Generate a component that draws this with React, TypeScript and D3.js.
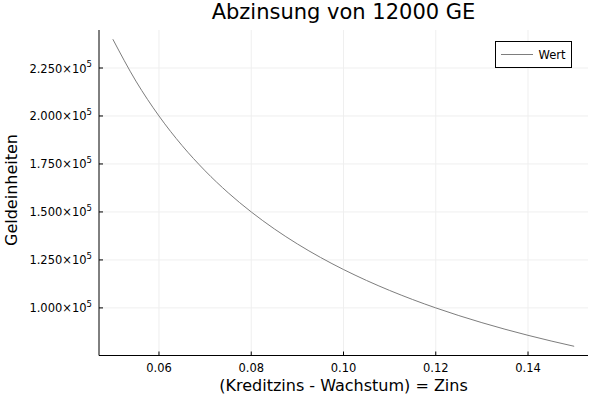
import React from "react";
import * as d3 from "d3";

const zinsen = [0.05, 0.055, 0.06, 0.065, 0.07, 0.075, 0.08, 0.085, 0.09, 0.095, 0.1, 0.105, 0.11, 0.115, 0.12, 0.125, 0.13, 0.135, 0.14, 0.145, 0.15];
const werte = [240000, 218182, 200000, 184615, 171429, 160000, 150000, 141176, 133333, 126316, 120000, 114286, 109091, 104348, 100000, 96000, 92308, 88889, 85714, 82759, 80000];
const xTicks = [0.06, 0.08, 0.1, 0.12, 0.14];
const xTickLabels = ["0.06", "0.08", "0.10", "0.12", "0.14"];
const yTicks = [100000, 125000, 150000, 175000, 200000, 225000];
const yTickMantissa = ["1.000", "1.250", "1.500", "1.750", "2.000", "2.250"];
const seriesName = "Wert";
const title = "Abzinsung von 12000 GE";
const xLabel = "(Kreditzins - Wachstum) = Zins";
const yLabel = "Geldeinheiten";

export default function App() {
  const W = 600, H = 400;
  const left = 99, right = 588, top = 30, bottom = 355.5;
  const font = "DejaVu Sans, sans-serif";
  const xMin = d3.min(zinsen)!, xMax = d3.max(zinsen)!;
  const yMin = d3.min(werte)!, yMax = d3.max(werte)!;
  const xPad = (xMax - xMin) * 0.03, yPad = (yMax - yMin) * 0.03;
  const x = d3.scaleLinear().domain([xMin - xPad, xMax + xPad]).range([left, right]);
  const y = d3.scaleLinear().domain([yMin - yPad, yMax + yPad]).range([bottom, top]);
  const pts: [number, number][] = zinsen.map((z, i) => [z, werte[i]]);
  const line = d3.line<[number, number]>().x(d => x(d[0])).y(d => y(d[1])).curve(d3.curveMonotoneX);
  const lineColor = "#7d7d7d";
  const gridColor = "#efefef";
  return (
    <svg width={W} height={H} style={{ position: "fixed", left: 0, top: 0, background: "#fff" }} fontFamily={font}>
      <rect x={0} y={0} width={W} height={H} fill="#fff" />
      {xTicks.map((t, i) => (
        <line key={"gx" + i} x1={x(t)} x2={x(t)} y1={top} y2={bottom} stroke={gridColor} strokeWidth={1} />
      ))}
      {yTicks.map((t, i) => (
        <line key={"gy" + i} x1={left} x2={right} y1={y(t)} y2={y(t)} stroke={gridColor} strokeWidth={1} />
      ))}
      <path d={line(pts) || ""} fill="none" stroke={lineColor} strokeWidth={1} />
      <line x1={left} x2={left} y1={top} y2={bottom} stroke="#000" strokeWidth={1} />
      <line x1={left} x2={right} y1={bottom} y2={bottom} stroke="#000" strokeWidth={1} />
      {xTicks.map((t, i) => (
        <g key={"xt" + i}>
          <line x1={x(t)} x2={x(t)} y1={bottom} y2={bottom - 4} stroke="#000" strokeWidth={1} />
          <text x={x(t)} y={bottom + 16} fontSize={11.5} textAnchor="middle" fill="#000">{xTickLabels[i]}</text>
        </g>
      ))}
      {yTicks.map((t, i) => (
        <g key={"yt" + i}>
          <line x1={left} x2={left + 4} y1={y(t)} y2={y(t)} stroke="#000" strokeWidth={1} />
          <text x={92} y={y(t) + 4.5} fontSize={11.5} textAnchor="end" fill="#000">
            {yTickMantissa[i] + "×10"}
            <tspan fontSize={8.5} dy={-5.5}>5</tspan>
          </text>
        </g>
      ))}
      <text x={(left + right) / 2} y={19} fontSize={21} textAnchor="middle" fill="#000">{title}</text>
      <text x={(left + right) / 2} y={391} fontSize={16} textAnchor="middle" fill="#000">{xLabel}</text>
      <text transform={`translate(17,190) rotate(-90)`} fontSize={16} textAnchor="middle" fill="#000">{yLabel}</text>
      <rect x={495.5} y={41.5} width={76} height={26} fill="#fff" stroke="#000" strokeWidth={1} />
      <line x1={501} x2={533} y1={54.5} y2={54.5} stroke={lineColor} strokeWidth={1} />
      <text x={538.5} y={58.5} fontSize={11.5} fill="#000">{seriesName}</text>
    </svg>
  );
}
